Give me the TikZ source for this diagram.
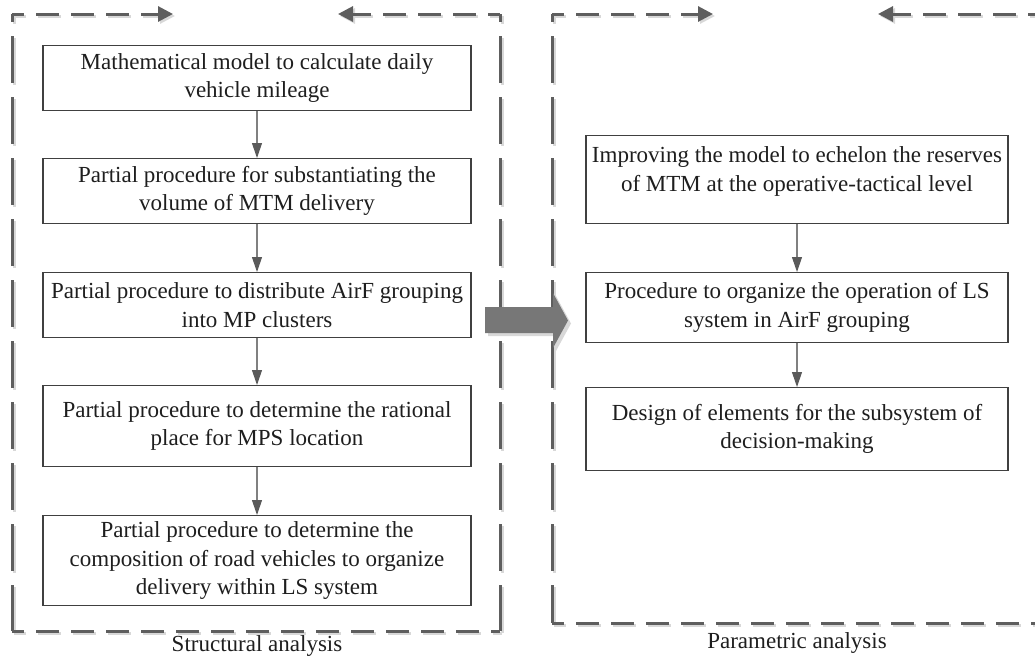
\documentclass[tikz,border=0pt]{standalone}
\usepackage{fontspec}
\setmainfont{Liberation Serif}
\usetikzlibrary{arrows.meta}

\definecolor{framegray}{HTML}{5E5E5E}
\definecolor{shadegray}{HTML}{D8D8D8}
\definecolor{boxline}{HTML}{404040}
\definecolor{linkgray}{HTML}{808080}
\definecolor{tipgray}{HTML}{5A5A5A}
\definecolor{inkgray}{HTML}{1E1E1E}
\definecolor{bigarrow}{HTML}{777777}

\tikzset{
  stagebox/.style={draw=boxline, line width=1.2pt, fill=white, text=inkgray,
    align=center, font=\fontsize{23}{28.5}\selectfont, inner sep=0pt, anchor=north},
  stagetext/.style={text=inkgray, align=center, font=\fontsize{23}{28.5}\selectfont, inner sep=0pt},
  link/.style={draw=linkgray, line width=1.1pt,
    -{Triangle[length=15pt,width=10pt,color=tipgray]}},
  hside/.style={line width=3pt, dash pattern=on 23pt off 12pt},
  vside/.style={line width=3pt, dash pattern=on 47pt off 14pt},
  sidetip/.style={-{Triangle[length=15pt,width=15pt]}},
  caption/.style={text=inkgray, font=\fontsize{23}{28}\selectfont, inner sep=0pt},
}

% the two dashed analysis frames, drawn in the given colour
\newcommand\analysisframes[1]{%
  \begin{scope}[color=#1]
    % structural analysis frame
    \draw[hside, dash phase=11pt, sidetip] (12,14) -- (173,14);
    \draw[hside, dash phase=11pt, sidetip] (500,14) -- (338,14);
    \draw[vside, dash phase=39pt] (12,14) -- (12,631);
    \draw[vside, dash phase=39pt] (500,14) -- (500,631);
    \draw[hside, dash phase=11pt] (12,631) -- (500,631);
    % parametric analysis frame
    \draw[hside, dash phase=11pt, sidetip] (552,14) -- (713,14);
    \draw[hside, dash phase=11pt, sidetip] (1040,14) -- (878,14);
    \draw[vside, dash phase=39pt] (552,14) -- (552,623);
    \draw[hside, dash phase=11pt] (552,623) -- (1040,623);
  \end{scope}}

\begin{document}
\begin{tikzpicture}[x=1pt, y=-1pt]
  \useasboundingbox (0,0) rectangle (1035,656);
  \clip (0,0) rectangle (1035,656);

  % frames with their soft shadow
  \begin{scope}[shift={(2,2)}]
    \analysisframes{shadegray}
  \end{scope}
  \analysisframes{framegray}

  % structural analysis steps
  \node[stagebox, minimum width=428pt, minimum height=65pt] (b1) at (257,45)
    {Mathematical model to calculate daily\\vehicle mileage};
  \node[stagebox, minimum width=428pt, minimum height=65pt] (b2) at (257,158)
    {Partial procedure for substantiating the\\volume of MTM delivery};
  \node[stagebox, minimum width=428pt, minimum height=65pt] (b3) at (257,272)
    {Partial procedure to distribute AirF grouping\\into MP clusters};
  \node[stagebox, minimum width=428pt, minimum height=81pt] (b4) at (257,385)
    {Partial procedure to determine the rational\\place for MPS location};
  \node[stagebox, minimum width=428pt, minimum height=90pt] (b5) at (257,515)
    {Partial procedure to determine the\\composition of road vehicles to organize\\delivery within LS system};

  \draw[link] (b1) -- (b2);
  \draw[link] (b2) -- (b3);
  \draw[link] (b3) -- (b4);
  \draw[link] (b4) -- (b5);

  % parametric analysis steps
  \node[stagebox, minimum width=422pt, minimum height=88pt] (r1) at (797,135) {};
  \node[stagetext] (r1text) at (797,171.5)
    {Improving the model to echelon the reserves\\of MTM at the operative-tactical level};
  \node[stagebox, minimum width=422pt, minimum height=70pt] (r2) at (797,272)
    {Procedure to organize the operation of LS\\system in AirF grouping};
  \node[stagebox, minimum width=422pt, minimum height=83pt] (r3) at (797,387)
    {Design of elements for the subsystem of\\decision-making};

  \draw[link] (r1) -- (r2);
  \draw[link] (r2) -- (r3);

  % transition arrow between the two analyses
  \fill[shadegray] (488,310) -- (556,310) -- (556,296) -- (571,323.5) -- (556,351)
    -- (556,336) -- (488,336) -- cycle;
  \fill[bigarrow] (485,307) -- (553,307) -- (553,293) -- (568,320.5) -- (553,348)
    -- (553,333) -- (485,333) -- cycle;

  % captions
  \node[caption] (capS) at (257,645.5) {Structural analysis};
  \node[caption] (capP) at (797,643) {Parametric analysis};
\end{tikzpicture}
\end{document}
